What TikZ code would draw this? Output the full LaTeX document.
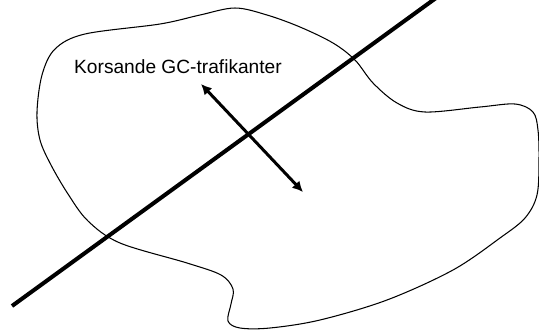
\documentclass[tikz,border=0pt]{standalone}
\usepackage{fontspec}
\setmainfont{Liberation Sans}
\usetikzlibrary{arrows.meta,positioning}

\begin{document}
\begin{tikzpicture}[x=0.02cm,y=-0.02cm,font=\fontsize{10.9}{12}\selectfont,
  area/.style={line width=0.6pt,smooth cycle,tension=0.55},
  road/.style={line width=2.3pt},
  crossing/.style={line width=1.7pt,{Latex[length=6pt,width=6pt]}-{Latex[length=6pt,width=6pt]}}]
\useasboundingbox (0,0) rectangle (539,329);
\draw[area] plot coordinates {(37,112) (42,75) (55,49) (85,34) (160,24) (200,15) (235,8)
  (267,15) (300,27) (333,43) (355,60) (373,83) (397,103) (425,112) (480,107) (515,104)
  (533,112) (538,130) (539,160) (537,195) (525,218) (500,238) (453,270) (387,300)
  (320,320) (270,328) (240,328) (228,321) (231,304) (233,289) (221,275) (187,263)
  (120,243) (88,221) (68,194) (51,165) (40,140)};
\coordinate (roadS) at (12,306);
\coordinate (roadN) at (436,-2);
\draw[road] (roadS) -- (roadN);
\node (label) at (178,67) {Korsande GC-trafikanter};
\coordinate (gcN) at (201,84);
\coordinate (gcS) at (303,192);
\draw[crossing] (gcN) -- (gcS);
\end{tikzpicture}
\end{document}
